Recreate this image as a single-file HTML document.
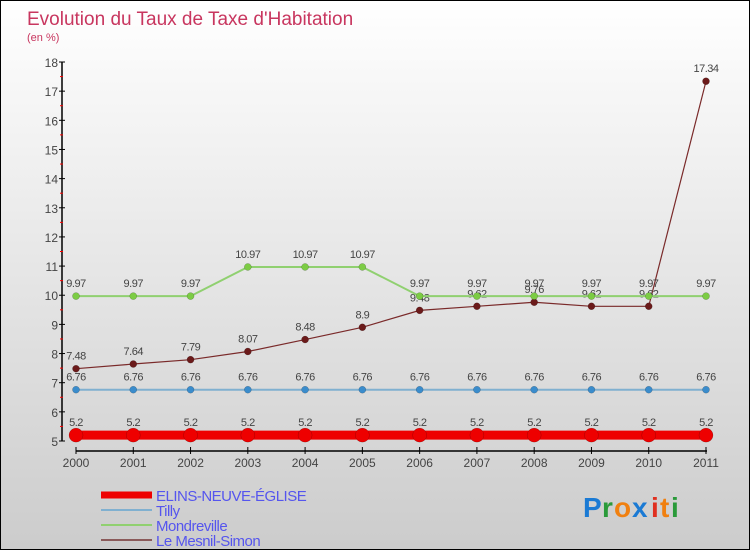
<!DOCTYPE html>
<html><head><meta charset="utf-8"><style>
body{margin:0}
#c{width:750px;height:550px;position:relative;box-sizing:border-box;border:1px solid #000;background:linear-gradient(#fff,#ccc);font-family:"Liberation Sans",sans-serif;overflow:hidden}
svg{position:absolute;left:0;top:0}
</style></head><body>
<div id="c">
<svg id="s" width="750" height="550">
<text x="26" y="24" font-size="19" fill="#c8365f">Evolution du Taux de Taxe d'Habitation</text>
<text x="26" y="40" font-size="11" fill="#c8365f">(en %)</text>
<g id="axes"></g><g id="series"></g>
<g id="legend"></g>
<g font-size="28" font-weight="bold" font-family="Liberation Sans, sans-serif">
<text x="582" y="516" fill="#1a7ad4">P</text><text x="601" y="516" fill="#2a9a3a">r</text><text x="613" y="516" fill="#f08010">o</text><text x="631" y="516" fill="#1a7ad4">x</text><text x="650" y="516" fill="#e03020">i</text><text x="659" y="516" fill="#f08010">t</text><text x="670" y="516" fill="#2a9a3a">i</text>
</g>
</svg></div>
<script>
const years=["2000","2001","2002","2003","2004","2005","2006","2007","2008","2009","2010","2011"];
const elins=[5.2,5.2,5.2,5.2,5.2,5.2,5.2,5.2,5.2,5.2,5.2,5.2];
const tilly=[6.76,6.76,6.76,6.76,6.76,6.76,6.76,6.76,6.76,6.76,6.76,6.76];
const mondreville=[9.97,9.97,9.97,10.97,10.97,10.97,9.97,9.97,9.97,9.97,9.97,9.97];
const mesnil=[7.48,7.64,7.79,8.07,8.48,8.9,9.48,9.62,9.76,9.62,9.62,17.34];
const yTicks=[5,6,7,8,9,10,11,12,13,14,15,16,17,18];
const NS="http://www.w3.org/2000/svg";
function X(i){return 75+i*(630/11);}
function Y(v){return 440-(v-5)*(379/13);}
function mk(p,t,a){const e=document.createElementNS(NS,t);for(const k in a)e.setAttribute(k,a[k]);p.appendChild(e);return e;}
const ax=document.getElementById('axes');
let l=mk(ax,'line',{x1:61,y1:61,x2:61,y2:440,stroke:'#000','stroke-width':1.5});

l=mk(ax,'line',{x1:75,y1:450,x2:706,y2:450,stroke:'#000','stroke-width':1.5});

yTicks.forEach(v=>{const y=Y(v);mk(ax,'line',{x1:58,y1:y,x2:64,y2:y,stroke:'#000'});
 if(v<18)mk(ax,'line',{x1:59,y1:Y(v+0.5),x2:62,y2:Y(v+0.5),stroke:'#f00'});
 const t=mk(ax,'text',{x:57,y:y+5,'font-size':12,fill:'#444','text-anchor':'end'});t.textContent=v;
 });
years.forEach((yr,i)=>{const x=X(i);mk(ax,'line',{x1:x,y1:446,x2:x,y2:453,stroke:'#000'});
 const t=mk(ax,'text',{x:x,y:466,'font-size':12,fill:'#444','text-anchor':'middle'});t.textContent=yr;
 });
const S=[
 {n:'le-mesnil-simon',d:mesnil,c:'#7a2a2a',w:1.2,r:3.5,f:'#6b1a1a'},
 {n:'mondreville',d:mondreville,c:'#90d070',w:2,r:3.5,f:'#7ccc44'},
 {n:'tilly',d:tilly,c:'#80b0d0',w:2,r:3.5,f:'#3a8ccc'},
 {n:'elins',d:elins,c:'#ee0000',w:9,r:7,f:'#ee0000'}];
const sg=document.getElementById('series');
S.forEach(s=>{const g=mk(sg,'g',{});
 const pl=mk(g,'polyline',{points:s.d.map((v,i)=>X(i)+','+Y(v)).join(' '),fill:'none',stroke:s.c,'stroke-width':s.w});
 
 s.d.forEach((v,i)=>{const c=mk(g,'circle',{cx:X(i),cy:Y(v),r:s.r,fill:s.f,stroke:'rgba(0,0,0,0.3)','stroke-width':0.5});
  
  const t=mk(g,'text',{x:X(i),y:Y(v)-9,'font-size':11,fill:'#444','text-anchor':'middle','letter-spacing':'-0.5'});t.textContent=v;
  });});
const lg=document.getElementById('legend');
[['ELINS-NEUVE-ÉGLISE','#ee0000',7],['Tilly','#80b0d0',2],['Mondreville','#90d070',2],['Le Mesnil-Simon','#8a5a5a',2]].forEach((e,i)=>{
 const y=494+i*15;
 const ln=mk(lg,'line',{x1:100,y1:y,x2:151,y2:y,stroke:e[1],'stroke-width':e[2]});
 
 const t=mk(lg,'text',{x:155,y:y+6,'font-size':15,fill:'#5555ee','letter-spacing':'-0.5'});t.textContent=e[0];
 });
</script>
</body></html>
